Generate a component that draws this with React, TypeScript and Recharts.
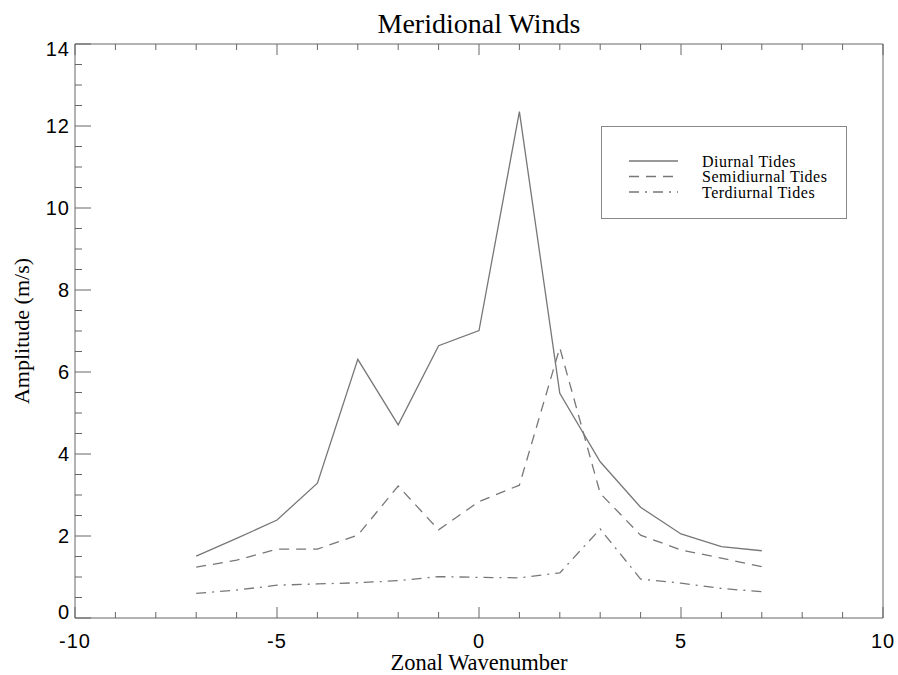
import React from "react";
import { Legend, Line, LineChart, XAxis, YAxis } from "recharts";

const wavenumbers = [-7, -6, -5, -4, -3, -2, -1, 0, 1, 2, 3, 4, 5, 6, 7];
const diurnal = [1.51, 1.94, 2.39, 3.29, 6.31, 4.71, 6.64, 7.01, 12.35, 5.48, 3.81, 2.7, 2.05, 1.74, 1.64];
const semidiurnal = [1.24, 1.41, 1.68, 1.68, 2.02, 3.22, 2.15, 2.84, 3.24, 6.59, 3.04, 2.02, 1.66, 1.46, 1.25];
const terdiurnal = [0.6, 0.68, 0.8, 0.83, 0.86, 0.91, 1.01, 0.99, 0.98, 1.1, 2.17, 0.95, 0.85, 0.72, 0.64];

const xTicks = [-10, -9, -8, -7, -6, -5, -4, -3, -2, -1, 0, 1, 2, 3, 4, 5, 6, 7, 8, 9, 10];
const xLabels = [-10, -5, 0, 5, 10];
const yTicks = [
  0, 0.5, 1, 1.5, 2, 2.5, 3, 3.5, 4, 4.5, 5, 5.5, 6, 6.5, 7, 7.5, 8, 8.5, 9, 9.5, 10,
  10.5, 11, 11.5, 12, 12.5, 13, 13.5, 14,
];
const yLabels = [0, 2, 4, 6, 8, 10, 12, 14];

const series = [
  { key: "diurnal", name: "Diurnal Tides", dash: undefined as string | undefined },
  { key: "semidiurnal", name: "Semidiurnal Tides", dash: "10 7" },
  { key: "terdiurnal", name: "Terdiurnal Tides", dash: "10 6 2 6" },
];

const data = wavenumbers.map((k, i) => ({
  k,
  diurnal: diurnal[i],
  semidiurnal: semidiurnal[i],
  terdiurnal: terdiurnal[i],
}));

const LINE = "#777";
const FRAME = "#666";
const SANS = "'Liberation Sans', Arial, sans-serif";
const SERIF = "'Liberation Serif', 'Times New Roman', serif";

// tick marks point into the plot, like the original IDL frame
const BottomTick = (props: any) => {
  const { x, y, payload } = props;
  const major = xLabels.includes(payload.value);
  return (
    <g>
      <line x1={x} x2={x} y1={y} y2={y - (major ? 11 : 6)} stroke={FRAME} />
      {major && (
        <text x={x} y={y + 30} textAnchor="middle" fontFamily={SANS} fontSize={20} letterSpacing={1} fill="#000">
          {payload.value}
        </text>
      )}
    </g>
  );
};

const TopTick = (props: any) => {
  const { x, y, payload } = props;
  const major = xLabels.includes(payload.value);
  return <line x1={x} x2={x} y1={y} y2={y + (major ? 11 : 6)} stroke={FRAME} />;
};

const LeftTick = (props: any) => {
  const { x, y, payload } = props;
  const major = yLabels.includes(payload.value);
  const shift = payload.value === 0 ? -6 : payload.value === 14 ? 5 : 0;
  return (
    <g>
      <line x1={x} x2={x + (major ? 16 : 7)} y1={y} y2={y} stroke={FRAME} />
      {major && (
        <text x={x - 5} y={y + 7 + shift} textAnchor="end" fontFamily={SANS} fontSize={20} letterSpacing={1} fill="#000">
          {payload.value}
        </text>
      )}
    </g>
  );
};

const RightTick = (props: any) => {
  const { x, y, payload } = props;
  const major = yLabels.includes(payload.value);
  return <line x1={x} x2={x - (major ? 16 : 7)} y1={y} y2={y} stroke={FRAME} />;
};

const renderLegend = () => (
  <div
    style={{
      width: 246,
      height: 93,
      border: "1px solid #888",
      boxSizing: "border-box",
      background: "#fff",
    }}
  >
    <svg width={244} height={91}>
      {series.map((s, i) => (
        <g key={s.key}>
          <line x1={27} x2={76} y1={34 + i * 15.5} y2={34 + i * 15.5} stroke={LINE} strokeWidth={1.3} strokeDasharray={s.dash} />
          <text x={100} y={39.5 + i * 15.5} fontFamily={SERIF} fontSize={16} letterSpacing={0.5} fill="#000">
            {s.name}
          </text>
        </g>
      ))}
    </svg>
  </div>
);

export default function App() {
  return (
    <div style={{ position: "absolute", left: 0, top: 0, width: 898, height: 675, background: "#fff" }}>
      <LineChart width={898} height={675} data={data} margin={{ top: 40, right: 10, bottom: 0, left: 0 }}>
        <XAxis
          xAxisId="bottom"
          dataKey="k"
          type="number"
          domain={[-10, 10]}
          ticks={xTicks}
          interval={0}
          height={57}
          tickSize={0}
          tickMargin={0}
          tickLine={false}
          tick={BottomTick}
          axisLine={{ stroke: FRAME }}
          label={{
            content: (p: any) => (
              <text
                x={p.viewBox.x + p.viewBox.width / 2}
                y={p.viewBox.y + 52}
                textAnchor="middle"
                fontFamily={SERIF}
                fontSize={22.5}
                fill="#000"
              >
                Zonal Wavenumber
              </text>
            ),
          }}
        />
        <XAxis
          xAxisId="top"
          orientation="top"
          dataKey="k"
          type="number"
          domain={[-10, 10]}
          ticks={xTicks}
          interval={0}
          height={4}
          tickSize={0}
          tickMargin={0}
          tickLine={false}
          tick={TopTick}
          axisLine={{ stroke: FRAME }}
          label={{
            content: (p: any) => (
              <text
                x={p.viewBox.x + p.viewBox.width / 2}
                y={p.viewBox.y - 7}
                textAnchor="middle"
                fontFamily={SERIF}
                fontSize={28}
                fill="#000"
              >
                Meridional Winds
              </text>
            ),
          }}
        />
        <YAxis
          yAxisId="left"
          type="number"
          domain={[0, 14]}
          ticks={yTicks}
          interval={0}
          width={75}
          tickSize={0}
          tickMargin={0}
          tickLine={false}
          tick={LeftTick}
          axisLine={{ stroke: FRAME }}
          label={{
            content: (p: any) => {
              const cx = 29;
              const cy = p.viewBox.y + p.viewBox.height / 2;
              return (
                <text
                  x={cx}
                  y={cy}
                  transform={`rotate(-90 ${cx} ${cy})`}
                  textAnchor="middle"
                  fontFamily={SERIF}
                  fontSize={22}
                  fill="#000"
                >
                  Amplitude (m/s)
                </text>
              );
            },
          }}
        />
        <YAxis
          yAxisId="right"
          orientation="right"
          type="number"
          domain={[0, 14]}
          ticks={yTicks}
          interval={0}
          width={5}
          tickSize={0}
          tickMargin={0}
          tickLine={false}
          tick={RightTick}
          axisLine={{ stroke: FRAME }}
        />
        <Legend
          layout="vertical"
          align="center"
          verticalAlign="middle"
          content={renderLegend}
          wrapperStyle={{ left: 601, top: 126, width: 246, height: 93 }}
        />
        {series.map((s) => (
          <Line
            key={s.key}
            xAxisId="bottom"
            yAxisId="left"
            type="linear"
            dataKey={s.key}
            name={s.name}
            stroke={LINE}
            strokeWidth={1.3}
            strokeDasharray={s.dash}
            dot={false}
            activeDot={false}
            isAnimationActive={false}
          />
        ))}
      </LineChart>
    </div>
  );
}
